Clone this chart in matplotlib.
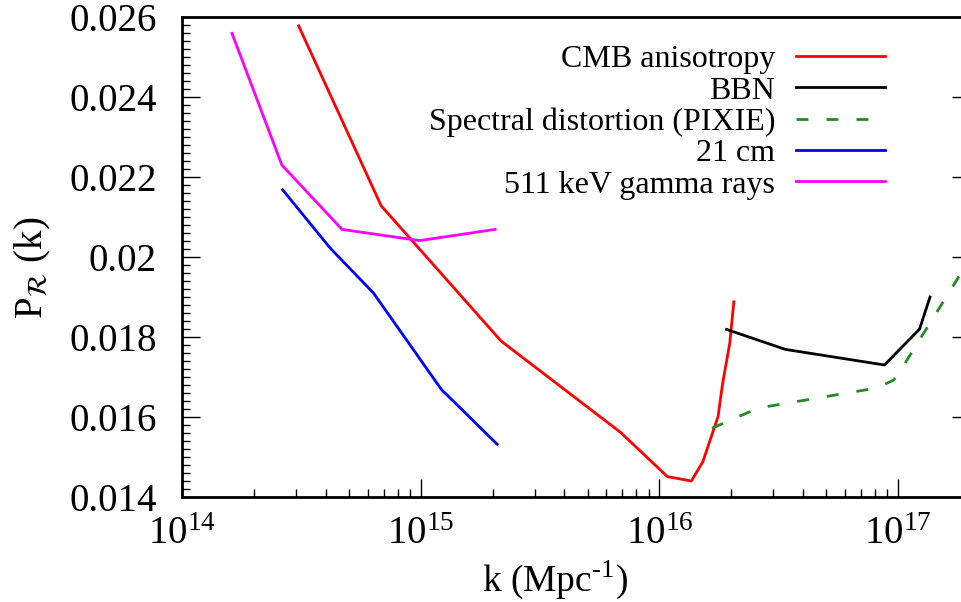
import numpy as np
import matplotlib
matplotlib.use("Agg")
import matplotlib.pyplot as plt
from matplotlib.ticker import FixedLocator, FixedFormatter, MultipleLocator, LogLocator

plt.rcParams['font.family'] = ['Liberation Serif', 'DejaVu Serif']
plt.rcParams['mathtext.fontset'] = 'stix'

# curves (k in Mpc^-1, P_R)
cmb_k = [3.08e14, 6.83e14, 2.17e15, 6.86e15, 1.08e16, 1.36e16, 1.52e16, 1.76e16, 1.84e16, 1.97e16, 2.05e16]
cmb_p = [0.02578, 0.02128, 0.0179, 0.01562, 0.01451, 0.0144, 0.01488, 0.01601, 0.01684, 0.01784, 0.01888]

bbn_k = [1.91e16, 3.37e16, 8.77e16, 1.23e17, 1.36e17]
bbn_p = [0.01819, 0.01769, 0.0173, 0.0182, 0.0190]

pixie_k = [1.66e16, 2.60e16, 8.13e16, 9.59e16, 1.07e17, 2.11e17]
pixie_p = [0.01572, 0.016225, 0.016725, 0.016925, 0.01735, 0.02018]

cm21_k = [2.64e14, 4.18e14, 6.34e14, 1.22e15, 2.09e15]
cm21_p = [0.02168, 0.02022, 0.0191, 0.01669, 0.01532]

gamma_k = [1.62e14, 2.62e14, 4.68e14, 9.89e14, 2.05e15]
gamma_p = [0.02559, 0.0223, 0.02069, 0.02041, 0.02069]

yticks = [0.014, 0.016, 0.018, 0.020, 0.022, 0.024, 0.026]
ytick_labels = ['0.014', '0.016', '0.018', '0.02', '0.022', '0.024', '0.026']

fig = plt.figure(figsize=(9.62, 6.02), dpi=100)
# right spine sits just past the image edge, like the cropped original
ax = fig.add_axes([182/962, 105/602, 788/962, 480/602])

lw = 2.0
ax.plot(cmb_k, cmb_p, color='#ff0000', lw=lw, label='CMB anisotropy')
ax.plot(bbn_k, bbn_p, color='black', lw=lw, label='BBN')
ax.plot(pixie_k, pixie_p, color='#228b22', lw=lw, ls=(0, (4.3, 6.5)),
        label='Spectral distortion (PIXIE)')
ax.plot(cm21_k, cm21_p, color='#0000ff', lw=lw, label='21 cm')
ax.plot(gamma_k, gamma_p, color='#ff00ff', lw=lw, label='511 keV gamma rays')

ax.set_xscale('log')
ax.set_xlim(1e14, 2e17)
ax.set_ylim(0.014, 0.026)

ax.yaxis.set_major_locator(FixedLocator(yticks))
ax.yaxis.set_major_formatter(FixedFormatter(ytick_labels))
ax.yaxis.set_minor_locator(MultipleLocator(0.0002))
ax.xaxis.set_major_locator(LogLocator(base=10, numticks=10))
ax.xaxis.set_minor_locator(LogLocator(base=10, subs=np.arange(2, 10), numticks=20))

ax.tick_params(which='both', direction='in', top=False, right=True, labelsize=28, width=1)
ax.tick_params(axis='y', which='major', length=13, pad=18)
ax.tick_params(axis='y', which='minor', length=6)
ax.tick_params(axis='x', which='major', length=13, pad=14)
ax.tick_params(axis='x', which='minor', length=6)
for s in ax.spines.values():
    s.set_linewidth(2)

ax.set_xlabel('k (Mpc$^{\\mathdefault{\u20101}}$)', fontsize=27)
ax.xaxis.set_label_coords(0.473, -0.128)
ax.set_ylabel(r'P$_{\mathcal{R}}$ (k)', fontsize=28)
ax.yaxis.set_label_coords(-0.164, 0.477)

leg = ax.legend(loc='upper right', bbox_to_anchor=(885/962, 1 - 45/602),
                bbox_transform=fig.transFigure, frameon=False, markerfirst=False,
                fontsize=23, handlelength=2.78, handletextpad=0.66,
                labelspacing=0.06, borderpad=0, borderaxespad=0)

fig.savefig('out.png', dpi=100)
